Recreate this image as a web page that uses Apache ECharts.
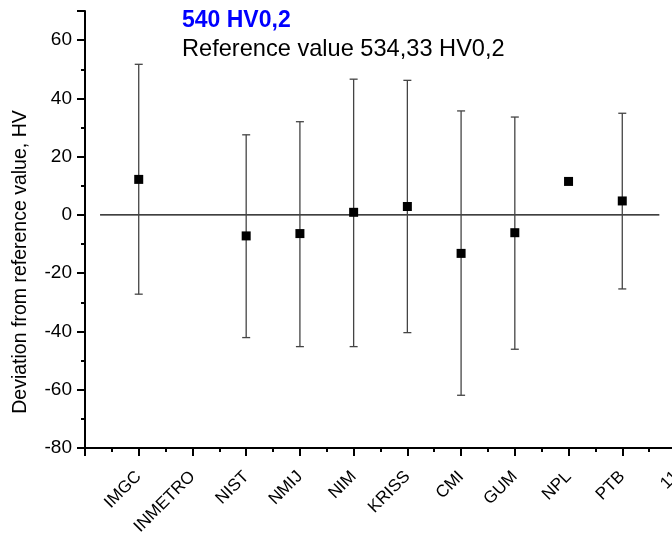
<!DOCTYPE html>
<html>
<head>
<meta charset="utf-8">
<script src="https://cdn.jsdelivr.net/npm/echarts@6/dist/echarts.min.js"></script>
<style>
  html, body { margin: 0; padding: 0; background: #fff; }
  #chart { width: 672px; height: 541px; }
</style>
</head>
<body>
<div id="chart"></div>
<script>
// x tick labels, one per position 0..11
var tickLabels = ['', 'IMGC', 'INMETRO', 'NIST', 'NMIJ', 'NIM', 'KRISS', 'CMI', 'GUM', 'NPL', 'PTB', '11'];
// labs that have a result (position on x axis)
var labPos = [1, 3, 4, 5, 6, 7, 8, 9, 10];
var deviation = [12.2, -7.2, -6.4, 0.9, 2.9, -13.2, -6.1, 11.5, 4.8];
var errUpper = [51.7, 27.5, 32.0, 46.6, 46.2, 35.7, 33.6, null, 34.9];
var errLower = [-27.2, -42.1, -45.2, -45.2, -40.4, -61.9, -46.1, null, -25.4];
// reference (zero) line ends
var zeroLineX = [0.28, 10.69];

var chart = echarts.init(document.getElementById('chart'));

var pointData = labPos.map(function (x, i) { return [x, deviation[i]]; });
var errData = [];
labPos.forEach(function (x, i) {
  if (errUpper[i] != null) errData.push([x, errLower[i], errUpper[i]]);
});

var font = 'Liberation Sans, Arial, sans-serif';

var option = {
  animation: false,
  grid: { left: 85, right: -4, top: 11, bottom: 93, containLabel: false, outerBoundsMode: 'none' },
  title: [
    {
      text: '540 HV0,2',
      left: 177, top: 4,
      textStyle: { color: '#0000ff', fontSize: 23, fontWeight: 'bold', fontFamily: font }
    },
    {
      text: 'Reference value 534,33 HV0,2',
      left: 177, top: 32,
      textStyle: { color: '#000', fontSize: 23.6, fontWeight: 'normal', fontFamily: font }
    }
  ],
  graphic: [{
    type: 'text',
    x: 11, y: 262,
    rotation: Math.PI / 2,
    style: {
      text: 'Deviation from reference value, HV',
      font: '19.5px ' + font,
      fill: '#000',
      align: 'center',
      verticalAlign: 'top'
    }
  }],
  xAxis: {
    type: 'value',
    min: 0, max: 11, interval: 1,
    splitLine: { show: false },
    axisLine: { onZero: false, lineStyle: { color: '#000', width: 2 } },
    axisTick: { inside: false, length: 8, lineStyle: { color: '#000', width: 2 } },
    minorTick: { show: true, splitNumber: 2, length: 4, lineStyle: { color: '#000', width: 2 } },
    axisLabel: {
      rotate: 45, margin: 26, color: '#000', fontSize: 17, fontFamily: font,
      showMaxLabel: true, showMinLabel: true, hideOverlap: false,
      formatter: function (v) { return tickLabels[Math.round(v)] || ''; }
    }
  },
  yAxis: {
    type: 'value',
    min: -80, max: 70, interval: 20,
    splitLine: { show: false },
    axisLine: { onZero: false, lineStyle: { color: '#000', width: 2 } },
    axisTick: { inside: false, length: 8, lineStyle: { color: '#000', width: 2 } },
    minorTick: { show: true, splitNumber: 2, length: 4, lineStyle: { color: '#000', width: 2 } },
    axisLabel: {
      margin: 13, color: '#000', fontSize: 19, fontFamily: font,
      formatter: function (v) { return v === 70 ? '' : String(v); }
    }
  },
  series: [
    {
      type: 'line',
      data: zeroLineX.map(function (x) { return [x, 0]; }),
      symbol: 'none',
      lineStyle: { color: '#000', width: 1.3 },
      z: 1
    },
    {
      type: 'custom',
      data: errData,
      z: 2,
      renderItem: function (params, api) {
        var x = api.value(0);
        var lo = api.coord([x, api.value(1)]);
        var hi = api.coord([x, api.value(2)]);
        var cap = 4;
        var style = { stroke: '#444', lineWidth: 1.3 };
        return {
          type: 'group',
          children: [
            { type: 'line', shape: { x1: lo[0], y1: lo[1], x2: hi[0], y2: hi[1] }, style: style },
            { type: 'line', shape: { x1: lo[0] - cap, y1: lo[1], x2: lo[0] + cap, y2: lo[1] }, style: style },
            { type: 'line', shape: { x1: hi[0] - cap, y1: hi[1], x2: hi[0] + cap, y2: hi[1] }, style: style }
          ]
        };
      }
    },
    {
      type: 'scatter',
      data: pointData,
      symbol: 'rect',
      symbolSize: 9,
      itemStyle: { color: '#000', opacity: 1 },
      z: 3
    }
  ]
};

chart.setOption(option);
</script>
</body>
</html>
